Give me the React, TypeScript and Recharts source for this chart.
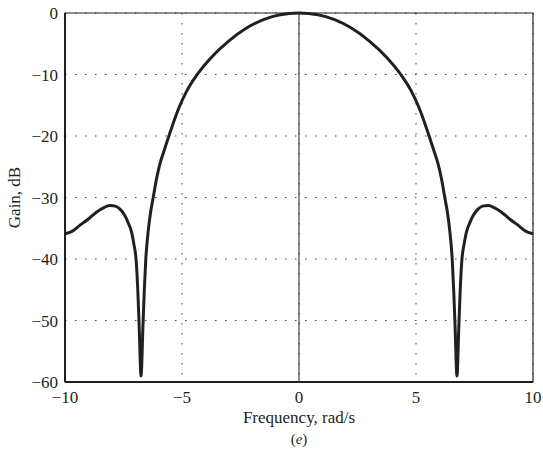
import React from "react";
import {
  LineChart,
  Line,
  XAxis,
  YAxis,
  CartesianGrid,
  ReferenceLine,
  ReferenceArea,
  Label
} from "recharts";

// frequency (rad/s) and gain (dB)
const freq = [
  -10, -9.7, -9.36, -9, -8.79, -8.5, -8.08, -7.85, -7.65, -7.45, -7.29, -7.15, -7.06, -6.96,
  -6.89, -6.83, -6.75, -6.67, -6.61, -6.55, -6.44, -6.35, -6.23, -6.08, -5.94, -5.75, -5.56,
  -5.3, -5.13, -4.8, -4.35, -3.77, -3.02, -2.24, -1.52, -0.81, 0,
  0.81, 1.52, 2.24, 3.02, 3.77, 4.35, 4.8, 5.13, 5.3, 5.56, 5.75, 5.94, 6.08, 6.23, 6.35,
  6.44, 6.55, 6.61, 6.67, 6.75, 6.83, 6.89, 6.96, 7.06, 7.15, 7.29, 7.45, 7.65, 7.85, 8.08,
  8.5, 8.79, 9, 9.36, 9.7, 10
];
const gain = [
  -35.9, -35.5, -34.5, -33.5, -32.8, -32.0, -31.3, -31.4, -31.9, -32.9, -34.2, -35.7, -37.5, -40.2,
  -45, -51, -59, -51, -45, -40.2, -35.3, -32.6, -30, -26.8, -24.5, -22.2, -20,
  -17.1, -15.4, -12.7, -10, -7.3, -4.6, -2.44, -1.08, -0.27, 0,
  -0.27, -1.08, -2.44, -4.6, -7.3, -10, -12.7, -15.4, -17.1, -20, -22.2, -24.5, -26.8, -30, -32.6,
  -35.3, -40.2, -45, -51, -59, -51, -45, -40.2, -37.5, -35.7, -34.2, -32.9, -31.9, -31.4, -31.3,
  -32.0, -32.8, -33.5, -34.5, -35.5, -35.9
];
const xTicks = [-10, -5, 0, 5, 10];
const yTicks = [-60, -50, -40, -30, -20, -10, 0];

const data = freq.map((f, i) => ({ f, g: gain[i] }));

const ink = "#231f20";
const font = "'Liberation Serif', 'Times New Roman', serif";
const fmt = (v: number) => (v < 0 ? `\u2212${Math.abs(v)}` : `${v}`);

export default function App() {
  return (
    <div style={{ position: "absolute", left: 0, top: 0, width: 543, height: 452, background: "#fff" }}>
      <LineChart
        width={543}
        height={452}
        data={data}
        margin={{ top: 13, right: 10, left: 5, bottom: 40 }}
        style={{ fontFamily: font }}
      >
        <CartesianGrid stroke="#444" strokeDasharray="1.5 8.5" />
        <XAxis
          dataKey="f"
          type="number"
          domain={[-10, 10]}
          ticks={xTicks}
          tickFormatter={fmt}
          height={30}
          tickLine={false}
          tickSize={6}
          tickMargin={3}
          axisLine={{ stroke: ink, strokeWidth: 2 }}
          tick={{ fill: ink, fontSize: 17, fontFamily: font }}
        >
          <Label value="Frequency, rad/s" position="bottom" offset={-1} fill={ink} fontSize={17} fontFamily={font} />
        </XAxis>
        <YAxis
          type="number"
          domain={[-60, 0]}
          ticks={yTicks}
          tickFormatter={fmt}
          width={60}
          tickLine={false}
          tickSize={5}
          tickMargin={2}
          axisLine={{ stroke: ink, strokeWidth: 2 }}
          tick={{ fill: ink, fontSize: 17, fontFamily: font }}
        >
          <Label value="Gain, dB" angle={-90} position="insideLeft" offset={9} fill={ink} fontSize={17} fontFamily={font} style={{ textAnchor: "middle" }} />
        </YAxis>
        <ReferenceLine x={0} stroke={ink} strokeWidth={1} />
        <ReferenceArea x1={-10} x2={10} y1={-60} y2={0} fill="none" stroke={ink} strokeWidth={1.2} />
        <Line
          dataKey="g"
          type="monotone"
          stroke={ink}
          strokeWidth={3}
          dot={false}
          isAnimationActive={false}
        />
      </LineChart>
      <div
        style={{
          position: "absolute",
          left: 0,
          width: 598,
          top: 430,
          lineHeight: "18px",
          textAlign: "center",
          fontFamily: font,
          fontSize: 15,
          color: ink
        }}
      >
        (<i>e</i>)
      </div>
    </div>
  );
}
